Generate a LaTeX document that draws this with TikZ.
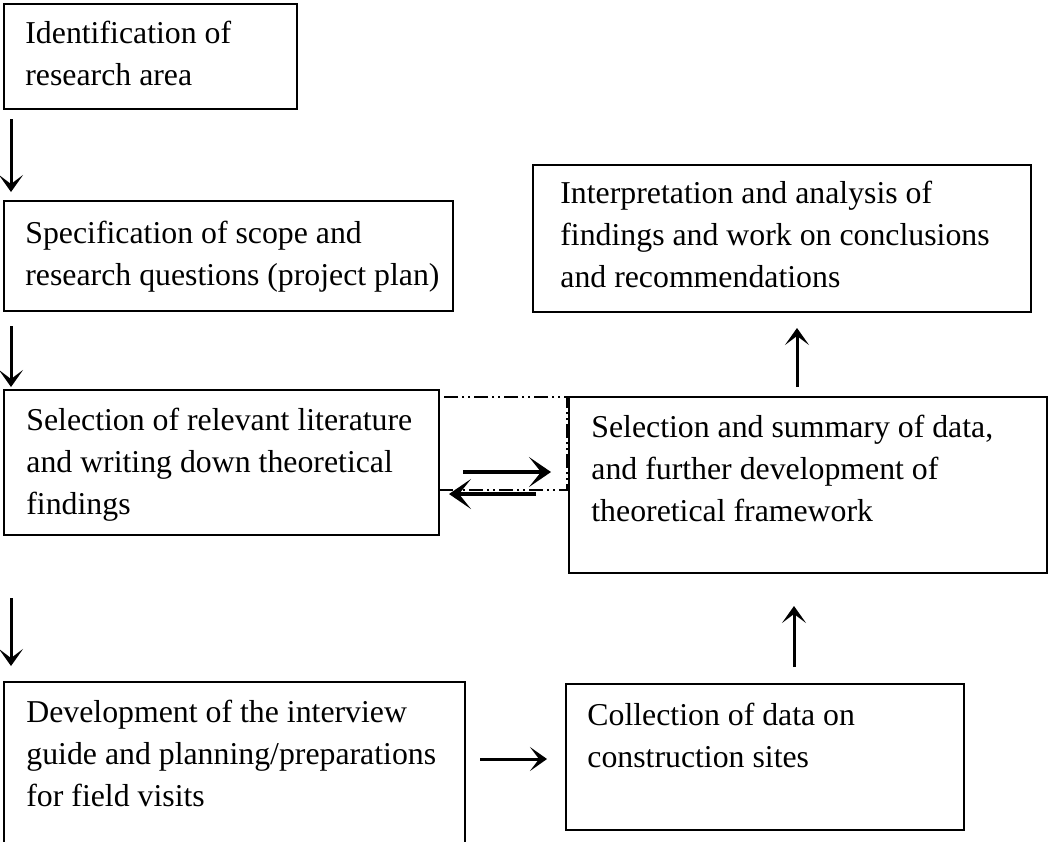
\documentclass[tikz,border=0pt]{standalone}
\usepackage{fontspec}
\setmainfont{Liberation Serif}
\usetikzlibrary{arrows.meta,fit,calc}
\begin{document}
\begin{tikzpicture}[x=0.5pt,y=-0.5pt,
  box/.style={draw,line width=1pt,inner sep=0pt},
  txt/.style={anchor=north west,inner sep=0pt,align=left,font=\fontsize{15.9}{21}\selectfont},
  arr/.style={line width=1.5pt,-{Stealth[length=8.5pt,width=12pt,inset=4.5pt]}},
  tarr/.style={line width=2.2pt,-{Stealth[length=11pt,width=15pt,inset=6pt]}},
  grpbox/.style={draw,line width=0.8pt,inner sep=0pt,dash pattern=on 7pt off 2pt on 1pt off 2pt on 1pt off 2pt},
]
\useasboundingbox (0,0) rectangle (1049,841);
\fill[white] (0,0) rectangle (1049,841);
% corner coordinates
\coordinate (p1a) at (4,4);     \coordinate (p1b) at (297,109);
\coordinate (p2a) at (4,201);   \coordinate (p2b) at (453,311);
\coordinate (p3a) at (4,390);   \coordinate (p3b) at (439,535);
\coordinate (p4a) at (4,682);   \coordinate (p4b) at (465,860);
\coordinate (p5a) at (533,165); \coordinate (p5b) at (1031,312);
\coordinate (p6a) at (569,397); \coordinate (p6b) at (1047,573);
\coordinate (p7a) at (566,684); \coordinate (p7b) at (964,830);
\coordinate (pga) at (439,397); \coordinate (pgb) at (567,490);
% group box (dash-dot)
\node[grpbox,fit=(pga)(pgb)] (grp) {};
% boxes
\node[box,fit=(p1a)(p1b)] (b1) {};
\node[box,fit=(p2a)(p2b)] (b2) {};
\node[box,fit=(p3a)(p3b)] (b3) {};
\node[box,fit=(p4a)(p4b)] (b4) {};
\node[box,fit=(p5a)(p5b)] (b5) {};
\node[box,fit=(p6a)(p6b)] (b6) {};
\node[box,fit=(p7a)(p7b)] (b7) {};
% texts (first baseline = y + 29.4)
\node[txt] (t1) at (25,13.6) {\strut Identification of\\research area};
\node[txt] (t2) at (25,213.6) {\strut Specification of scope and\\research questions (project plan)};
\node[txt] (t3) at (26,400.6) {\strut Selection of relevant literature\\and writing down theoretical\\findings};
\node[txt] (t4) at (26,692.6) {\strut Development of the interview\\guide and planning/preparations\\for field visits};
\node[txt] (t5) at (560,173.6) {\strut Interpretation and analysis of\\findings and work on conclusions\\and recommendations};
\node[txt] (t6) at (591,407.6) {\strut Selection and summary of data,\\and further development of\\theoretical framework};
\node[txt] (t7) at (587,695.6) {\strut Collection of data on\\construction sites};
% arrows
\draw[arr] ($(b1.south west)+(8,9)$) -- ($(b2.north west)+(8,-8)$);
\draw[arr] ($(b2.south west)+(8,14)$) -- ($(b3.north west)+(8,-2)$);
\draw[arr] ($(b3.south west)+(8,62)$) -- ($(b4.north west)+(8,-15)$);
\draw[arr] ($(b4.north east)+(14,78)$) -- ($(b7.north west)+(-18,76)$);
\draw[arr] ($(b7.north west)+(229,-16)$) -- ($(b6.south west)+(226,32)$);
\draw[arr] ($(b6.north west)+(229,-9)$) -- ($(b5.south west)+(265,15)$);
\draw[tarr] ($(b3.north east)+(23,83)$) -- ($(b6.north west)+(-17,76)$);
\draw[tarr] ($(b6.north west)+(-32,98)$) -- ($(b3.north east)+(9,105)$);
\end{tikzpicture}
\end{document}
